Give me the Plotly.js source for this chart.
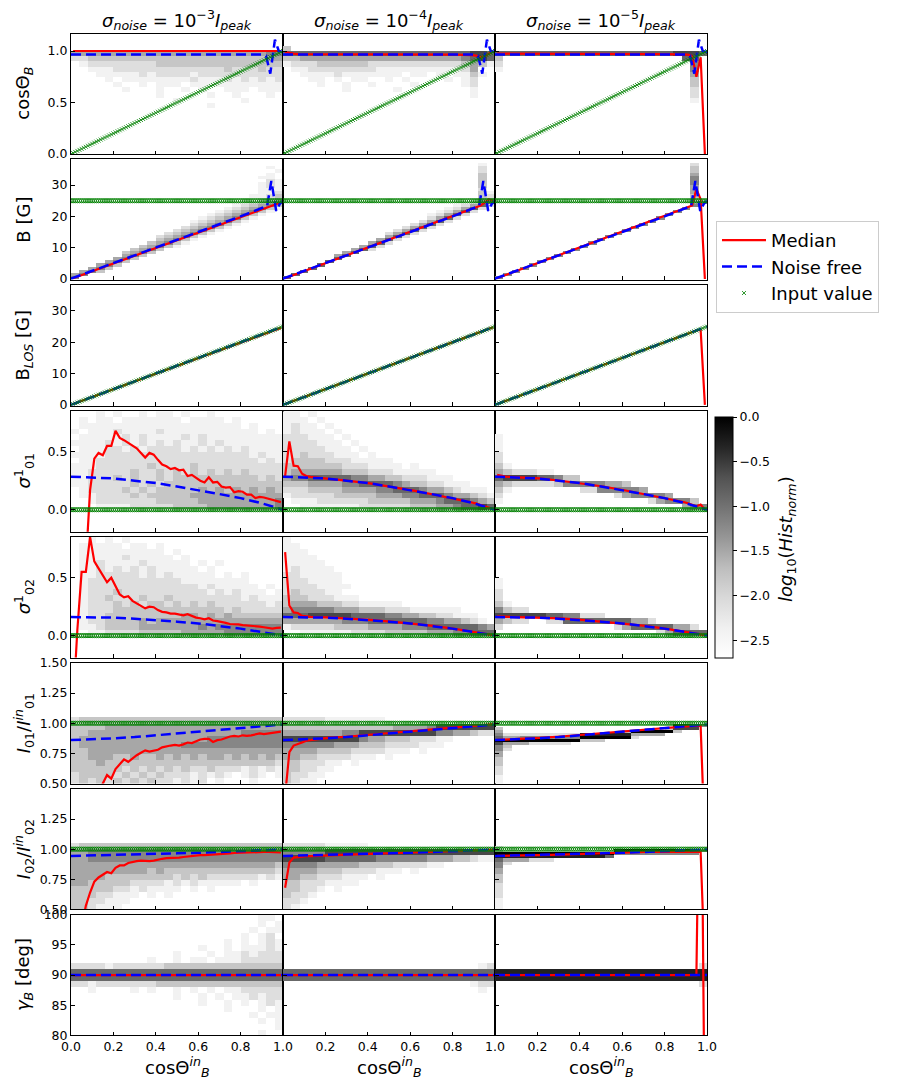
<!DOCTYPE html>
<html><head><meta charset="utf-8">
<script src="https://cdn.plot.ly/plotly-3.0.1.min.js"></script>
<style>html,body{margin:0;padding:0;background:#fff}#chart{width:900px;height:1091px}</style>
</head><body><div id="chart"></div>
<script>
// ================= DATA =================
const X_EDGES = [0,0.04,0.08,0.12,0.16,0.2,0.24,0.28,0.32,0.36,0.4,0.44,0.48,0.52,0.56,0.6,0.64,0.68,0.72,0.76,0.8,0.84,0.88,0.92,0.96,1.0];
const X50 = [0.01,0.03,0.05,0.07,0.09,0.11,0.13,0.15,0.17,0.19,0.21,0.23,0.25,0.27,0.29,0.31,0.33,0.35,0.37,0.39,
  0.41,0.43,0.45,0.47,0.49,0.51,0.53,0.55,0.57,0.59,0.61,0.63,0.65,0.67,0.69,0.71,0.73,0.75,0.77,0.79,
  0.81,0.83,0.85,0.87,0.89,0.91,0.93,0.95,0.97,0.99];
const XS = [0.01,0.03,0.05,0.07,0.09,0.11,0.13,0.21,0.31,0.41,0.51,0.61,0.71,0.81,0.89,0.91,0.93,0.95,0.97,0.99];
const X_IN = [0,0.01,0.02,0.03,0.04,0.05,0.06,0.07,0.08,0.09,0.1,0.11,0.12,0.13,0.14,0.15,0.16,0.17,0.18,0.19,
  0.2,0.21,0.22,0.23,0.24,0.25,0.26,0.27,0.28,0.29,0.3,0.31,0.32,0.33,0.34,0.35,0.36,0.37,0.38,0.39,
  0.4,0.41,0.42,0.43,0.44,0.45,0.46,0.47,0.48,0.49,0.5,0.51,0.52,0.53,0.54,0.55,0.56,0.57,0.58,0.59,
  0.6,0.61,0.62,0.63,0.64,0.65,0.66,0.67,0.68,0.69,0.7,0.71,0.72,0.73,0.74,0.75,0.76,0.77,0.78,0.79,
  0.8,0.81,0.82,0.83,0.84,0.85,0.86,0.87,0.88,0.89,0.9,0.91,0.92,0.93,0.94,0.95,0.96,0.97,0.98,0.99,1.0];
const BLOS_IN = [0,0.25,0.5,0.75,1,1.25,1.5,1.75,2,2.25,2.5,2.75,3,3.25,3.5,3.75,4,4.25,4.5,4.75,
  5,5.25,5.5,5.75,6,6.25,6.5,6.75,7,7.25,7.5,7.75,8,8.25,8.5,8.75,9,9.25,9.5,9.75,
  10,10.25,10.5,10.75,11,11.25,11.5,11.75,12,12.25,12.5,12.75,13,13.25,13.5,13.75,14,14.25,14.5,14.75,
  15,15.25,15.5,15.75,16,16.25,16.5,16.75,17,17.25,17.5,17.75,18,18.25,18.5,18.75,19,19.25,19.5,19.75,
  20,20.25,20.5,20.75,21,21.25,21.5,21.75,22,22.25,22.5,22.75,23,23.25,23.5,23.75,24,24.25,24.5,24.75,25];
const B_INPUT = 25, SIGMA_INPUT = 0, RATIO_INPUT = 1;

// medians (red)
const MED_COS_E3 = [1.0,1.0,1.0,1.0,1.0,1.0,1.0,1.0,1.0,1.0,1.0,1.0,1.0,1.0,1.0,1.0,1.0,0.995,0.995,1.0];
const MED_COS_E4 = [0.99,0.98,0.975,0.97,0.97,0.97,0.97,0.97,0.97,0.97,0.97,0.97,0.97,0.965,0.96,0.955,0.94,0.945,0.975,1.0];
const MED_COS_E5 = [0.975,0.975,0.975,0.975,0.975,0.975,0.975,0.975,0.975,0.975,0.975,0.975,0.975,0.97,0.965,0.965,0.95,0.75,0.94,0.0];
const MED_B_E3 = [0.25,0.75,1.25,1.75,2.2,2.7,3.2,5.2,7.6,10.1,12.6,15.0,17.5,19.9,21.9,22.4,22.9,23.4,23.9,24.4];
const MED_B_E4 = [0.25,0.75,1.25,1.75,2.25,2.75,3.25,5.25,7.75,10.25,12.75,15.25,17.75,20.25,22.25,22.75,23.4,24.3,25.5,25.0];
const MED_B_E5 = [0.25,0.75,1.25,1.75,2.25,2.75,3.25,5.25,7.75,10.25,12.75,15.25,17.75,20.25,22.25,22.75,23.5,28.7,25.5,0.0];
const MED_BLOS_E3 = [0.25,0.75,1.25,1.75,2.2,2.7,3.2,5.2,7.7,10.2,12.7,15.2,17.7,20.1,22.1,22.6,23.1,23.6,24.1,24.6];
const MED_BLOS_E4 = [0.25,0.75,1.25,1.75,2.25,2.75,3.25,5.25,7.75,10.25,12.75,15.25,17.75,20.25,22.25,22.75,23.25,23.75,24.25,24.75];
const MED_BLOS_E5 = [0.25,0.75,1.25,1.75,2.25,2.75,3.25,5.25,7.75,10.25,12.75,15.25,17.75,20.25,22.25,22.75,23.25,23.75,24.0,0.0];
const MED_S01_E3 = [null,null,-1.0,-0.47,0.17,0.44,0.49,0.47,0.55,0.55,0.68,0.62,0.60,0.575,0.555,0.53,0.49,0.45,0.49,0.475,
  0.43,0.39,0.375,0.35,0.36,0.34,0.345,0.29,0.30,0.275,0.25,0.235,0.28,0.235,0.24,0.20,0.19,0.195,0.15,0.16,
  0.155,0.13,0.13,0.10,0.11,0.105,0.095,0.085,0.075,0.065];
const MED_S01_E4 = [0.29,0.59,0.38,0.375,0.31,0.29,0.283,0.27,0.248,0.227,0.198,0.167,0.131,0.096,0.065,0.055,0.042,0.03,0.018,0.006];
const MED_S01_E5 = [0.30,0.29,0.285,0.283,0.282,0.281,0.28,0.27,0.25,0.228,0.2,0.168,0.133,0.098,0.066,0.056,0.044,0.03,0.045,0.0];
const MED_S02_E3 = [-0.6,0.05,0.55,0.55,0.85,0.64,0.58,0.52,0.46,0.50,0.43,0.355,0.33,0.34,0.30,0.28,0.26,0.235,0.25,0.245,
  0.22,0.205,0.20,0.19,0.19,0.185,0.175,0.185,0.17,0.155,0.15,0.14,0.15,0.13,0.125,0.12,0.11,0.10,0.10,0.097,
  0.09,0.088,0.083,0.083,0.078,0.072,0.066,0.06,0.066,0.069];
const MED_S02_E4 = [0.72,0.26,0.20,0.195,0.17,0.165,0.162,0.157,0.148,0.135,0.12,0.104,0.084,0.058,0.036,0.03,0.024,0.017,0.011,0.004];
const MED_S02_E5 = [0.165,0.164,0.163,0.162,0.161,0.16,0.16,0.156,0.148,0.135,0.12,0.104,0.084,0.058,0.036,0.03,0.024,0.017,0.011,0.004];
const MED_I01_E3 = [null,null,null,null,null,0.30,0.40,0.50,0.57,0.54,0.62,0.66,0.70,0.68,0.71,0.735,0.755,0.775,0.765,0.77,
  0.78,0.80,0.81,0.815,0.82,0.815,0.825,0.84,0.835,0.85,0.865,0.87,0.87,0.845,0.86,0.865,0.88,0.89,0.895,0.89,
  0.90,0.895,0.90,0.91,0.915,0.91,0.915,0.915,0.92,0.93];
const MED_I01_E4 = [0.40,0.76,0.815,0.825,0.84,0.855,0.86,0.878,0.89,0.905,0.92,0.935,0.95,0.966,0.978,0.981,0.984,0.987,0.99,0.993];
const MED_I01_E5 = [0.862,0.862,0.864,0.866,0.868,0.87,0.871,0.878,0.89,0.905,0.92,0.935,0.95,0.966,0.977,0.977,0.978,0.978,0.978,0.0];
const MED_I02_E3 = [null,null,0.35,0.53,0.64,0.73,0.765,0.785,0.81,0.80,0.845,0.865,0.865,0.885,0.895,0.90,0.905,0.90,0.90,0.905,
  0.915,0.92,0.925,0.925,0.93,0.93,0.935,0.94,0.945,0.948,0.95,0.95,0.953,0.958,0.962,0.965,0.965,0.965,0.968,0.97,
  0.972,0.972,0.975,0.977,0.977,0.977,0.977,0.975,0.973,0.972];
const MED_I02_E4 = [0.68,0.89,0.93,0.935,0.94,0.941,0.942,0.95,0.955,0.96,0.965,0.97,0.975,0.985,0.99,0.991,0.992,0.993,0.995,0.996];
const MED_I02_E5 = [0.944,0.944,0.945,0.945,0.946,0.946,0.947,0.95,0.955,0.96,0.965,0.975,0.978,0.978,0.978,0.978,0.978,0.978,0.978,0.0];
const MED_GAM_E3 = [90,90,90,90,90,90,90,90,90,90,90,90,90,90,90,90,90,90,90,90];
const MED_GAM_E4 = [90,90,90,90,90,90,90,90,90,90,90,90,90,90,90,90,90,90,90,90];
const MED_GAM_E5 = [90,90,90,90,90,90,90,90,90,90,90,90,90,90,90,90,90,90,140,60];

// noise free (blue)
const NF_X = [0,0.1,0.2,0.3,0.4,0.5,0.6,0.7,0.8,0.9,1.0];
const NF_COS_X = [0,0.2,0.4,0.6,0.8,0.9,0.92,0.94,0.962,0.98,1.0];
const NF_COS = [0.965,0.965,0.965,0.965,0.965,0.965,0.955,0.78,1.11,1.0,0.99];
const NF_B_X = [0,0.2,0.4,0.6,0.8,0.9,0.925,0.945,0.968,0.985,1.0];
const NF_B = [0.1,5.0,10.0,15.0,20.0,22.5,23.3,31.3,21.7,24.0,25.0];
const NF_BLOS = [0.0,2.5,5.0,7.5,10.0,12.5,15.0,17.5,20.0,22.5,25.0];
const NF_S01 = [0.285,0.28,0.27,0.25,0.23,0.20,0.17,0.135,0.10,0.055,0.0];
const NF_S02 = [0.16,0.16,0.155,0.145,0.135,0.12,0.105,0.085,0.06,0.03,0.0];
const NF_I01 = [0.86,0.865,0.875,0.885,0.9,0.915,0.93,0.945,0.96,0.975,0.99];
const NF_I02 = [0.944,0.947,0.951,0.955,0.96,0.965,0.97,0.977,0.984,0.99,0.997];
const NF_GAM = [90,90,90,90,90,90,90,90,90,90,90];

// 2D histograms: rows top->bottom, 25 x-bins; '.' empty, digit d -> log10 = -2.7 + 0.3 d
const HIST_COS_E3 = ["","","","",
"4444444444444444444444455","2233333333333333333333344",".122222222333333333333333","..11122222222222223222322",
"...1111121222212222222222","....1.1111111121112121212",".....1..1.111.11111111111","......1...1..1.1..111.111",
"..........1.....1..1...1.","............1.......1....","................1........"];
const HIST_COS_E4 = ["","","","3........................",
"6666666666666666666666776","3344444444444444444445676","1222333333222222222223431",".1122222222111111111124..",
"..111121111111.11.1.1131.","...11.1.11..1.1....1.12..","....1..1..1....1.....12..",".......1.....1........1..",
"......................1.."];
const HIST_COS_E5 = ["","","","",
"6666666666666666666667776","3.....................66.","2......................5.","1......................5.",
".......................4.",".......................3.",".......................3.",".......................2.",
".......................2.",".......................1."];
// B: 1 G bins
const HIST_B_E3 = ["","",
".......................1.","........................1",".......................1.","......................11.",
".......................21","......................121","......................121","......................111",
"......................112",".....................1123","....................11234","...................112345",
"...................123453","..................1234531",".................1234531.","................1234531..",
"...............1234531...","..............1234531....","..............234531.....",".............234531......",
"............234531.......","...........234531........","..........234531.........","..........34531..........",
".........34531...........","........34531............",".......3453","......3453",
"......453",".....453","....453","...453",
"..453",".453","45","5"];
const HIST_B_E4 = ["",
".......................1.",".......................2.",".......................2.",".......................3.",
".......................3.",".......................3.",".......................3.",".......................3.",
".......................2.",".......................31",".......................32","......................144",
".....................1256","....................12462","...................12462.","..................12462..",
".................12462...",".................2462....","................2462.....","...............2462......",
"..............2462.......",".............2462........","............2462.........","............462..........",
"...........462...........","..........462............",".........462.............","........462..............",
".......46................","......46.................","......6..................",".....6...................",
"....6....................","...6.....................","..6......................",".6.......................",
"6........................"];
const HIST_B_E5 = ["",
".......................2.",".......................3.",".......................3.",".......................4.",
".......................5.",".......................5.",".......................5.",".......................4.",
".......................4.",".......................4.",".......................3.",".......................3.",
".......................45",".......................5.","......................5..",".....................5...",
"....................5....","...................5.....","..................5......",".................5.......",
"................5........","...............5.........","..............5..........",".............5...........",
"............5............","...........5.............","..........5..............",".........5...............",
"........5................",".......5.................","......5..................",".....5...................",
"....5....................","...5.....................","..5......................",".5.......................",
"5........................"];
const HIST_S01_E3 = [
"...1.1..1.11.1..1........",".1.11.1111111.1111.1.....",".1111111111111111111.1...","1.11121111211111111111.1.",
".111112121111212111111111","1111212121212112121111111",".111221212222121212121111","1111222222222222222221211",
".112222222222222222222121","1112222223222232222222222","1122222322323232323232222","1122232322323333333333232",
"1122222323233333333333333",".122223232333334343434343",".112222323333344444444444","..12222222333334444444445",
"...1111222223333444444445"];
const HIST_S01_E4 = [
"11.1.....................","111.1....................","1211.1...................","12111.1..................",
"222111.1.................","2222111.1................","22222111.1...............","223222111.1..............",
"2333322211111............","33333332221111.1.........","344444433322211111.......","45566666554433222111.....",
"3334444556666543322111...","222333344445566654432111.","1222223333344455666544321",".111222222333334445666543",
"..11111112222223334456676"];
const HIST_S01_E5 = ["","","","",
"1........................","1........................","1........................","2........................",
"2........................","31.......................","4322211..................","6777766533...............",
"4322222355555443.........","31........22555554.......","2.............2455554....","1.................245553.",
"......................455"];
const HIST_S02_E3 = [
"..1.1.1..................",".11111.11.1..............",".1111111111.1............",".11111211111.1...........",
".1121111211111.1.1.......",".11212121211111.1........",".1122222121211111.1.1....",".12222222222211111111....",
".122222222222221211111.1.",".1222322222222221212111.1",".122322232232222222212111",".122232323323232322222212",
".122233333333333332322222",".122333333333443434333333",".122333343444444444444444",".112333344444445455555555",
"..11222233333444445555555"];
const HIST_S02_E4 = [
"1........................","11.......................","111......................","1111.....................",
"11111....................","121111...................","2211111..................","2221111..................",
"22221111.................","2322211..................","333222111................","34443332211111...........",
"455555444333222111111....","66677777666655443322111..","444444455566666665544321.","1222223333444455566666654",
"..11111122223333344455666"];
const HIST_S02_E5 = ["","","","","","","",
"1........................","1........................","2........................","2........................",
"31.......................","5322.....................","7777776655222............","4322..2266666666442......",
"2.............2466666442.","...................246666"];
const HIST_I01_E3 = ["","","","","","","","","",
"2333333333333333333333333","3333444444444444444444444","3344444444444444444455555","3444444444444444555555555",
"3444444444444555555555555","3344444444444444444444444","3344433433434343443434343","3334333333333333333333332",
"3333332323232322322212121","2333323232322212121.121.1","2323232323221212.1...1..."];
const HIST_I01_E4 = ["","","","","","","","","",
"222221111111.............","3333333333333444457777777","4444444557777777775544322","77777777754433322211.....",
"5555554443332222111......","444433332222111.1........","44332222111.1............","3322211.1................",
"332211...................","32211....................","3211....................."];
// 10^-5 intensity ratios use 0.025 bins
const HIST_I01_E5 = ["","","","","","","","","","","","","","","","","","","","",
".....................9995","3...................3777.","4..............3999993...","52222222228888884444.....",
"64455555559999992........","9999999999333............","744422222................","53.......................",
"52.......................","4........................","4........................","3........................",
"3........................","3........................","2........................","2........................",
"2........................","1........................","1........................","1........................"];
const HIST_I02_E3 = ["","","","","","","","","",
"2333333333333333333333333","4455555555555555555555555","4455555555555555555555555","4444444444444444444444443",
"4444444443433333333333332","4444333333332323222222121","44333332222121211111.1...","3333322121111.1.1........",
"33322111.1.1.............","3322111..................","332111..................."];
const HIST_I02_E4 = ["","","","","","","","","",
"2222211111...............","5555577777777777777777777","7777766666655555544433211","5555444443333222211......",
"44443332222111.1.........","4433222111.1.............","332221111................","33221.1..................",
"3221.....................","221......................","21......................."];
const HIST_I02_E5 = ["","","","","","","","","","","","","","","","","","","",
"2........................","3.............99999999995","999999999999995555555555.","88888888888886...........",
"6444222..................","52.......................","5........................","4........................",
"4........................","3........................","3........................","3........................",
"2........................","2........................","2........................","2........................",
"2........................","1........................","1........................","1........................",
"1........................"];
const HIST_GAM_E3 = [
"......................11.","......................1.1",".....................1.11","....................1.12.",
"..................1.1.121","...............1..1.11121","............1...1.1121222",".........1..1.11.11122222",
"2222122222233333333333333","6666666666666666666666666","6666666666666666666666666","2212222222333333333333333",
"..1....1.1..1.1.1.1122222","............1..1.1.112122","...............1..1.1.121","..................1...1.1",
".....................1.11","......................1.1","........................1","......................1.."];
const HIST_GAM_E4 = ["","","","","","","","",
".......................12","6666666666666666666666666","6666666666666666666666666","......................122",
".......................1."];
const HIST_GAM_E5 = ["","","","","","","","",
"........................2","8888888888888888888888888","8888888888888888888888888","........................2"];

// ================= BUILD =================
const W = 900, H = 1091;
const FONT = 'DejaVu Sans';
const RED = '#ff0000', BLUE = '#0000ff', GREEN = '#008000';
const GREYS = [[0,'#ffffff'],[0.125,'#f0f0f0'],[0.25,'#d9d9d9'],[0.375,'#bdbdbd'],[0.5,'#969696'],[0.625,'#737373'],[0.75,'#525252'],[0.875,'#252525'],[1,'#000000']];
const COL_L = [71, 283, 495], COL_W = 212;
const ROW_T0 = 33.5, ROW_PITCH = 125.9, ROW_H = 120.5;

// bins per panel: [low edge, bin size, number of bins]
const ROWS = [
  {hist:[HIST_COS_E3,HIST_COS_E4,HIST_COS_E5], bins:[[0,0.05,24],[0,0.05,24],[0,0.05,24]], medX:[XS,XS,XS], med:[MED_COS_E3,MED_COS_E4,MED_COS_E5], nfX:NF_COS_X, nf:NF_COS, inY:X_IN, sym:'x'},
  {hist:[HIST_B_E3,HIST_B_E4,HIST_B_E5], bins:[[0,1,38],[0,1,38],[0,1,38]], medX:[XS,XS,XS], med:[MED_B_E3,MED_B_E4,MED_B_E5], nfX:NF_B_X, nf:NF_B, inY:X_IN.map(()=>B_INPUT), sym:'o'},
  {hist:null, medX:[XS,XS,XS], med:[MED_BLOS_E3,MED_BLOS_E4,MED_BLOS_E5], nfX:NF_X, nf:NF_BLOS, inY:BLOS_IN, sym:'x'},
  {hist:[HIST_S01_E3,HIST_S01_E4,HIST_S01_E5], bins:[[-0.2,0.05,21],[-0.2,0.05,21],[-0.2,0.05,21]], medX:[X50,XS,XS], med:[MED_S01_E3,MED_S01_E4,MED_S01_E5], nfX:NF_X, nf:NF_S01, inY:X_IN.map(()=>SIGMA_INPUT), sym:'o'},
  {hist:[HIST_S02_E3,HIST_S02_E4,HIST_S02_E5], bins:[[-0.2,0.05,21],[-0.2,0.05,21],[-0.2,0.05,21]], medX:[X50,XS,XS], med:[MED_S02_E3,MED_S02_E4,MED_S02_E5], nfX:NF_X, nf:NF_S02, inY:X_IN.map(()=>SIGMA_INPUT), sym:'o'},
  {hist:[HIST_I01_E3,HIST_I01_E4,HIST_I01_E5], bins:[[0.5,0.05,20],[0.5,0.05,20],[0.5,0.025,40]], medX:[X50,XS,XS], med:[MED_I01_E3,MED_I01_E4,MED_I01_E5], nfX:NF_X, nf:NF_I01, inY:X_IN.map(()=>RATIO_INPUT), sym:'o'},
  {hist:[HIST_I02_E3,HIST_I02_E4,HIST_I02_E5], bins:[[0.5,0.05,20],[0.5,0.05,20],[0.5,0.025,40]], medX:[X50,XS,XS], med:[MED_I02_E3,MED_I02_E4,MED_I02_E5], nfX:NF_X, nf:NF_I02, inY:X_IN.map(()=>RATIO_INPUT), sym:'o'},
  {hist:[HIST_GAM_E3,HIST_GAM_E4,HIST_GAM_E5], bins:[[80,1,20],[80,1,20],[80,1,20]], medX:[XS,XS,XS], med:[MED_GAM_E3,MED_GAM_E4,MED_GAM_E5], nfX:NF_X, nf:NF_GAM, inY:null, sym:'o'}
];
const Y_RANGES = [[0,1.17],[-0.3,38.2],[-0.3,38.2],[-0.19,0.85],[-0.19,0.85],[0.5,1.5],[0.5,1.5],[80,100]];
const Y_TICKVALS = [[0,0.5,1],[0,10,20,30],[0,10,20,30],[0,0.5],[0,0.5],[0.5,0.75,1,1.25,1.5],[0.5,0.75,1,1.25],[80,85,90,95,100]];
const Y_TICKTEXT = [['0.0','0.5','1.0'],['0','10','20','30'],['0','10','20','30'],['0.0','0.5'],['0.0','0.5'],
  ['0.50','0.75','1.00','1.25','1.50'],['0.50','0.75','1.00','1.25'],['80','85','90','95','100']];
const Y_TITLES = ['cosΘ<sub><i>B</i></sub>','B [G]','B<sub><i>LOS</i></sub> [G]','<i>σ</i><sup>1</sup><sub>01</sub>',
  '<i>σ</i><sup>1</sup><sub>02</sub>','<i>I</i><sub>01</sub>/<i>I</i><sup><i>in</i></sup><sub>01</sub>',
  '<i>I</i><sub>02</sub>/<i>I</i><sup><i>in</i></sup><sub>02</sub>','<i>γ</i><sub><i>B</i></sub> [deg]'];
const COL_TITLES = ['−3','−4','−5'];

function lv(ch){ return (ch >= '0' && ch <= '9') ? -2.7 + 0.3*(+ch) : null; }
function gridZ(rows, n){
  const full = rows.slice(); while (full.length < n) full.push('');
  const z = [];
  for (let k = n-1; k >= 0; k--){ const s = full[k]; const r = []; for (let i = 0; i < 25; i++) r.push(i < s.length ? lv(s[i]) : null); z.push(r); }
  return z;
}
function edges(lo, step, n){ const e = []; for (let k = 0; k <= n; k++) e.push(+(lo + k*step).toFixed(5)); return e; }

const traces = [];
const layout = {
  width: W, height: H, margin:{l:0,r:0,t:0,b:0}, paper_bgcolor:'#fff', plot_bgcolor:'#fff',
  font:{family:FONT, color:'#000'}, showlegend:true,
  legend:{x:716/W, y:1-221/H, xanchor:'left', yanchor:'top', bgcolor:'#fff', bordercolor:'#cccccc', borderwidth:1,
    font:{family:FONT, size:18, color:'#000'}, itemwidth:44, tracegroupgap:0},
  annotations: []
};
let first = true;
for (let r = 0; r < 8; r++){
  const R = ROWS[r];
  const top = ROW_T0 + ROW_PITCH*r;
  for (let c = 0; c < 3; c++){
    const n = r*3 + c + 1, sfx = n > 1 ? String(n) : '';
    const xa = 'x' + sfx, ya = 'y' + sfx;
    layout['xaxis' + sfx] = {domain:[COL_L[c]/W, (COL_L[c]+COL_W)/W], range:[0,1], anchor:ya,
      showline:true, mirror:true, linecolor:'#000', linewidth:1, ticks:'inside', ticklen:3.5, tickwidth:1, tickcolor:'#000',
      tickvals:[0,0.2,0.4,0.6,0.8,1], ticktext:(c===0?['0.0','0.2','0.4','0.6','0.8','1.0']:['','0.2','0.4','0.6','0.8','1.0']),
      showticklabels:(r===7), tickfont:{family:FONT,size:12.5,color:'#000'}, showgrid:false, zeroline:false, fixedrange:true};
    layout['yaxis' + sfx] = {domain:[1-(top+ROW_H)/H, 1-top/H], range:Y_RANGES[r], anchor:xa,
      showline:true, mirror:true, linecolor:'#000', linewidth:1, ticks:'inside', ticklen:3.5, tickwidth:1, tickcolor:'#000',
      tickvals:Y_TICKVALS[r], ticktext:Y_TICKTEXT[r], showticklabels:(c===0), tickfont:{family:FONT,size:12.5,color:'#000'},
      showgrid:false, zeroline:false, fixedrange:true};
    if (R.hist){
      const showCb = (r===0 && c===0);
      const b = R.bins[c];
      traces.push({type:'heatmap', xaxis:xa, yaxis:ya, x:X_EDGES, y:edges(b[0],b[1],b[2]), z:gridZ(R.hist[c], b[2]),
        zmin:-2.7, zmax:0, colorscale:GREYS, showscale:showCb, hoverinfo:'skip', showlegend:false,
        colorbar: showCb ? {x:715/W, xanchor:'left', y:1-537.5/H, yanchor:'middle', len:241/H, lenmode:'fraction',
          thickness:18, thicknessmode:'pixels', outlinewidth:1, outlinecolor:'#000', xpad:0, ypad:0,
          tickvals:[0,-0.5,-1,-1.5,-2,-2.5], ticktext:['0.0','−0.5','−1.0','−1.5','−2.0','−2.5'],
          ticks:'outside', ticklen:4, tickcolor:'#000', tickfont:{family:FONT,size:12.5,color:'#000'}} : undefined});
    }
    traces.push({type:'scatter', mode:'lines', xaxis:xa, yaxis:ya, x:R.medX[c], y:R.med[c], name:'Median',
      line:{color:RED, width:2.2}, showlegend:first, hoverinfo:'skip', connectgaps:false});
    traces.push({type:'scatter', mode:'lines', xaxis:xa, yaxis:ya, x:R.nfX, y:R.nf, name:'Noise free',
      line:{color:BLUE, width:2.5, dash:'10px,5px'}, showlegend:first, hoverinfo:'skip'});
    if (R.inY){
      const m = R.sym === 'x'
        ? {symbol:'x-thin', size:4, color:GREEN, line:{color:GREEN, width:0.8}}
        : {symbol:'circle-open', size:4.2, color:GREEN, line:{color:GREEN, width:0.9}};
      traces.push({type:'scatter', mode:'markers', xaxis:xa, yaxis:ya, x:X_IN, y:R.inY, name:'Input value',
        marker:m, showlegend:first, hoverinfo:'skip'});
    }
    first = false;
  }
  layout.annotations.push({text:Y_TITLES[r], xref:'paper', yref:'paper', x:24/W, y:1-(top+ROW_H/2)/H,
    xanchor:'center', yanchor:'middle', textangle:-90, showarrow:false, font:{family:FONT,size:18,color:'#000'}});
}
for (let c = 0; c < 3; c++){
  const cx = (COL_L[c] + COL_W/2)/W;
  layout.annotations.push({text:'<i>σ</i><sub><i>noise</i></sub> = 10<sup>' + COL_TITLES[c] + '</sup><i>I</i><sub><i>peak</i></sub>',
    xref:'paper', yref:'paper', x:cx, y:1-20/H, xanchor:'center', yanchor:'middle', showarrow:false,
    font:{family:FONT,size:18,color:'#000'}});
  layout.annotations.push({text:'cosΘ<sup><i>in</i></sup><sub><i>B</i></sub>', xref:'paper', yref:'paper', x:cx, y:1-1067/H,
    xanchor:'center', yanchor:'middle', showarrow:false, font:{family:FONT,size:18,color:'#000'}});
}
layout.annotations.push({text:'<i>log</i><sub>10</sub>(<i>Hist</i><sub><i>norm</i></sub>)', xref:'paper', yref:'paper',
  x:787/W, y:1-539/H, xanchor:'center', yanchor:'middle', textangle:-90, showarrow:false, font:{family:FONT,size:18,color:'#000'}});

Plotly.newPlot('chart', traces, layout, {displayModeBar:false, staticPlot:true});
</script>
</body></html>
